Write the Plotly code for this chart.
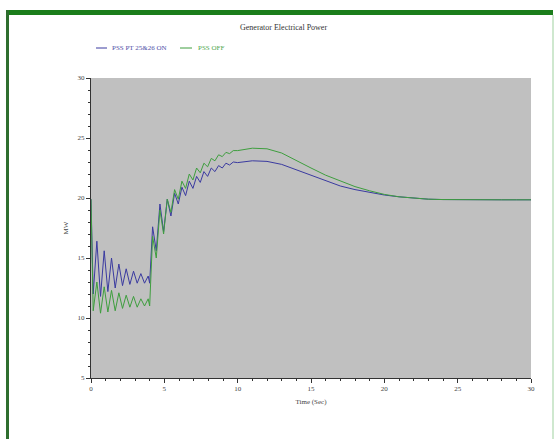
import plotly.graph_objects as go

time_s = [0, 0.15, 0.4, 0.65, 0.9, 1.15, 1.4, 1.65, 1.9, 2.15, 2.4, 2.65, 2.9, 3.15, 3.4, 3.65, 3.9,
          4.0, 4.2, 4.45, 4.7, 4.95, 5.2, 5.45, 5.7, 5.95, 6.2, 6.45, 6.7, 6.95, 7.2, 7.45, 7.7, 7.95,
          8.2, 8.45, 8.7, 8.95, 9.2, 9.45, 9.7, 10, 11, 12, 13, 14, 15, 16, 17, 18, 19, 20, 21, 22,
          23, 24, 25, 26, 27, 28, 29, 30]

blue_mw = [19.9, 12.0, 16.4, 11.8, 15.6, 12.2, 15.0, 12.5, 14.5, 12.7, 14.1, 12.8, 13.9, 12.9, 13.7, 12.9, 13.5,
           12.9, 17.6, 15.6, 19.5, 17.2, 19.9, 18.5, 20.4, 19.5, 20.9, 20.2, 21.4, 20.8, 21.8, 21.3, 22.2, 21.8,
           22.5, 22.2, 22.7, 22.5, 22.9, 22.75, 23.0, 22.95, 23.1, 23.05, 22.8, 22.35, 21.85, 21.4, 21.0, 20.7,
           20.45, 20.25, 20.1, 19.98, 19.9, 19.87, 19.85, 19.85, 19.85, 19.85, 19.85, 19.85]

green_mw = [19.9, 10.6, 13.0, 10.4, 12.6, 10.5, 12.3, 10.6, 12.1, 10.8, 11.9, 10.9, 11.8, 10.9, 11.6, 11.0, 11.6,
            11.0, 16.8, 15.0, 19.0, 17.0, 19.9, 18.8, 20.7, 19.9, 21.4, 20.8, 22.0, 21.5, 22.5, 22.1, 22.9, 22.6,
            23.3, 23.1, 23.6, 23.45, 23.8, 23.7, 23.95, 23.95, 24.15, 24.1, 23.75, 23.1, 22.5, 21.9, 21.4, 20.95,
            20.6, 20.3, 20.1, 19.97, 19.9, 19.87, 19.85, 19.85, 19.85, 19.85, 19.85, 19.85]

series_names = ["PSS PT 25&26 ON", "PSS OFF"]
x_ticks = [0, 5, 10, 15, 20, 25, 30]
y_ticks = [5, 10, 15, 20, 25, 30]

blue = "#3a3aa0"
green = "#3e9e3e"
serif = "Liberation Serif"

fig = go.Figure()
fig.add_trace(go.Scatter(x=time_s, y=blue_mw, mode="lines", name=series_names[0],
                         line=dict(color=blue, width=1)))
fig.add_trace(go.Scatter(x=time_s, y=green_mw, mode="lines", name=series_names[1],
                         line=dict(color=green, width=1)))

W, H = 558, 439
L, R, T, B = 91, 27, 78, 61
pw, ph = W - L - R, H - T - B

def px(x):
    return (x - L) / pw

def py(y):
    return (H - B - y) / ph

shapes = [
    dict(type="rect", xref="paper", yref="paper", x0=px(6), x1=px(553), y0=py(15), y1=py(10),
         fillcolor="#1b7d1b", line=dict(width=0), layer="above"),
    dict(type="rect", xref="paper", yref="paper", x0=px(6), x1=px(9), y0=py(439), y1=py(10),
         fillcolor="#2e6e2e", line=dict(width=0), layer="above"),
    dict(type="rect", xref="paper", yref="paper", x0=px(552), x1=px(554), y0=py(439), y1=py(15),
         fillcolor="#cfe8cf", line=dict(width=0), layer="above"),
    # legend samples
    dict(type="line", xref="paper", yref="paper", x0=px(96), x1=px(107), y0=py(48), y1=py(48),
         line=dict(color=blue, width=1)),
    dict(type="line", xref="paper", yref="paper", x0=px(180), x1=px(192), y0=py(48), y1=py(48),
         line=dict(color=green, width=1)),
]

annotations = [
    dict(text="Generator Electrical Power", xref="paper", yref="paper", x=px(283), y=py(27),
         showarrow=False, xanchor="center", yanchor="middle",
         font=dict(family=serif, size=8, color="#333333")),
    dict(text=series_names[0], xref="paper", yref="paper", x=px(110), y=py(48),
         showarrow=False, xanchor="left", yanchor="middle",
         font=dict(family=serif, size=7, color="#5050a8")),
    dict(text=series_names[1], xref="paper", yref="paper", x=px(196), y=py(48),
         showarrow=False, xanchor="left", yanchor="middle",
         font=dict(family=serif, size=7, color="#50a850")),
]

fig.update_layout(
    width=W, height=H,
    margin=dict(l=L, r=R, t=T, b=B),
    paper_bgcolor="white",
    plot_bgcolor="#c0c0c0",
    shapes=shapes,
    showlegend=False,
    annotations=annotations,
    xaxis=dict(range=[0, 30], tickvals=x_ticks, ticks="outside", ticklen=4, tickcolor="#333",
               showline=True, linecolor="#333", linewidth=1, showgrid=False, zeroline=False,
               minor=dict(dtick=1, ticks="outside", ticklen=2, tickcolor="#333"),
               tickfont=dict(family=serif, size=7, color="#444"),
               title=dict(text="Time (Sec)", font=dict(family=serif, size=7, color="#444"), standoff=6)),
    yaxis=dict(range=[5, 30], tickvals=y_ticks, ticks="outside", ticklen=4, tickcolor="#333",
               showline=True, linecolor="#333", linewidth=1, showgrid=False, zeroline=False,
               minor=dict(dtick=1, ticks="outside", ticklen=2, tickcolor="#333"),
               tickfont=dict(family=serif, size=7, color="#444"),
               title=dict(text="MW", font=dict(family=serif, size=7, color="#444"), standoff=8)),
)

fig.write_html("out.html")
